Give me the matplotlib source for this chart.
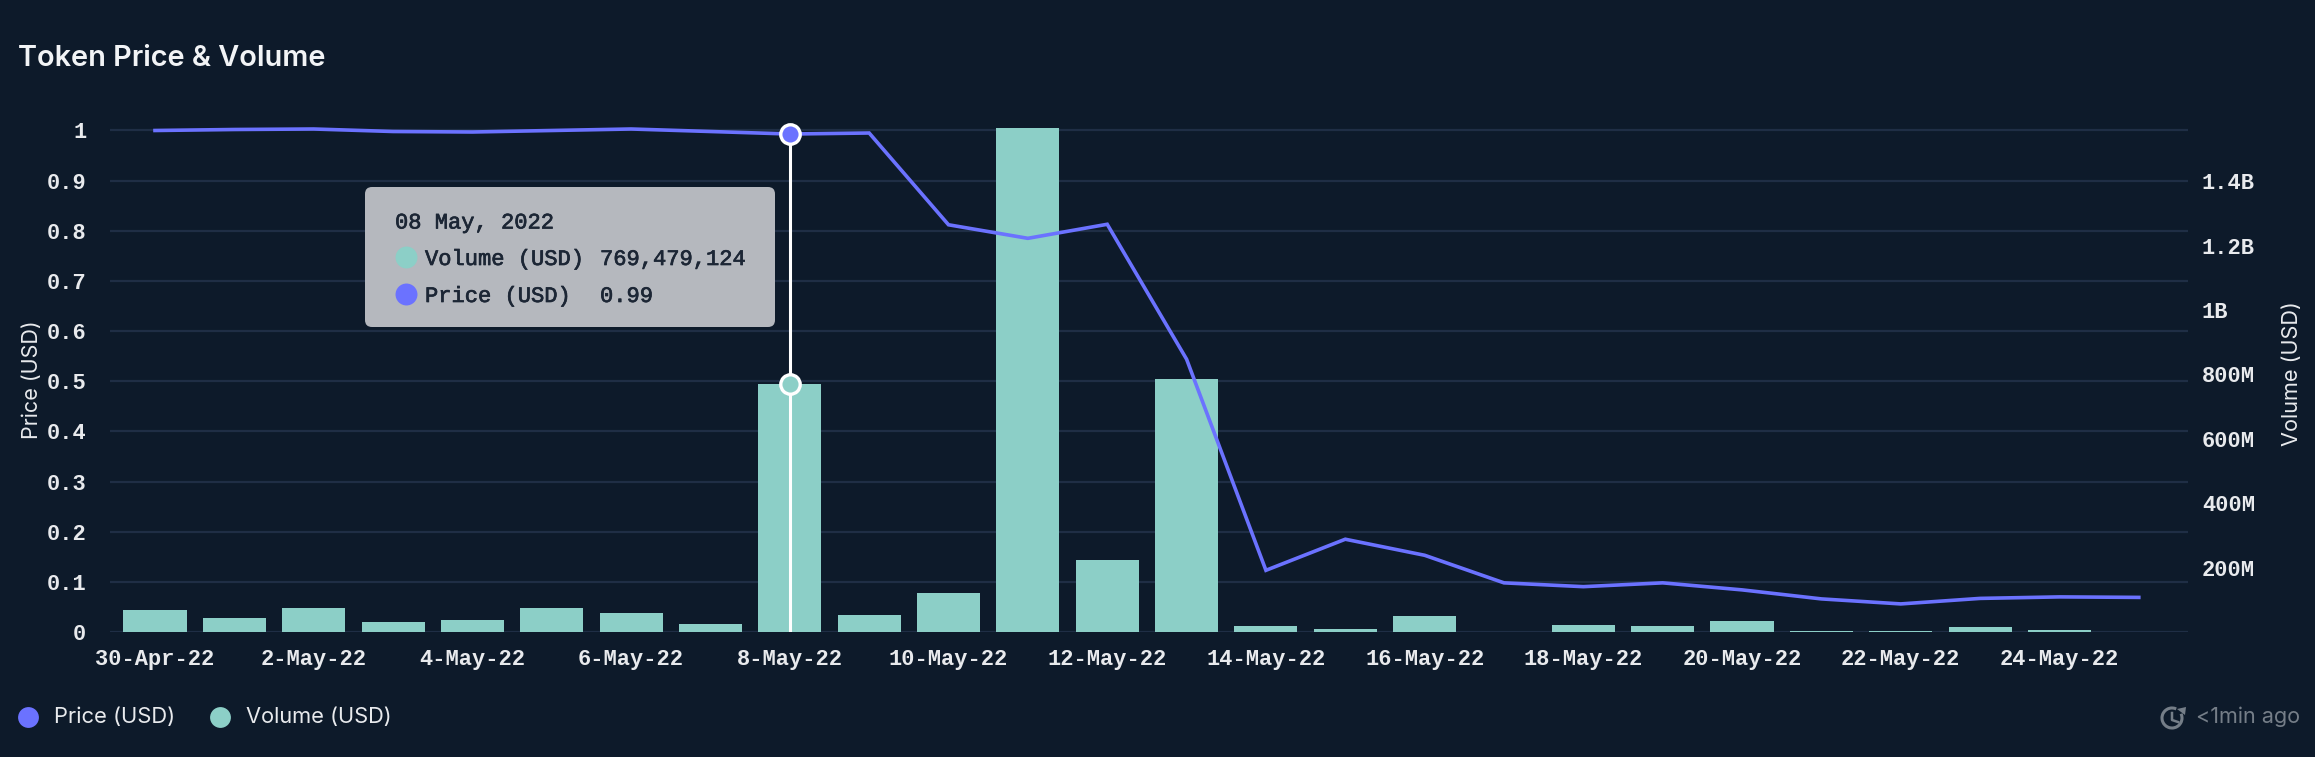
import matplotlib
matplotlib.use("Agg")
import matplotlib.pyplot as plt
import matplotlib.patheffects as pe
from matplotlib.patches import FancyBboxPatch, Arc, Polygon
from matplotlib.ticker import FuncFormatter

dates = ["30-Apr-22","1-May-22","2-May-22","3-May-22","4-May-22","5-May-22","6-May-22","7-May-22",
         "8-May-22","9-May-22","10-May-22","11-May-22","12-May-22","13-May-22","14-May-22","15-May-22",
         "16-May-22","17-May-22","18-May-22","19-May-22","20-May-22","21-May-22","22-May-22","23-May-22",
         "24-May-22","25-May-22"]
price = [1.0,1.002,1.003,0.998,0.997,1.0,1.003,0.998,0.993,0.995,0.812,0.785,0.813,0.544,0.123,0.185,
         0.153,0.098,0.0904,0.098,0.084,0.066,0.056,0.067,0.07,0.069]
volume = [68e6,43.5e6,75.6e6,30e6,36e6,75.6e6,58e6,26e6,769.479124e6,54e6,121e6,1565e6,225e6,787e6,20e6,9e6,
          49e6,1e6,22e6,18.6e6,35e6,4e6,4e6,14e6,5e6,1e6]
price_ticks = [0,0.1,0.2,0.3,0.4,0.5,0.6,0.7,0.8,0.9,1]
volume_ticks = [200e6,400e6,600e6,800e6,1000e6,1200e6,1400e6]
highlight = 8

W, H = 2315, 757
BG = "#0d1a2a"; GRID = "#1f2e45"; BAR = "#8ccfc7"; LINE = "#6b72ff"; TXT = "#e8eaed"; MUTED = "#757e88"
MONO = "Liberation Mono"; SANS = "Inter"

fig = plt.figure(figsize=(W/100, H/100), dpi=100, facecolor=BG)
L, R, T, B = 110, 2188, 120, 632
rect = [L/W, 1-B/H, (R-L)/W, (B-T)/H]
ppx = 501.5  # px per 1.0 of price
vpx = 64.4/200e6

ax = fig.add_axes(rect, facecolor=BG, zorder=1)
xs = list(range(len(dates)))
ax.set_xlim(-0.567, 25.62)
ax.set_ylim(0, (B-T)/ppx)
ax.set_yticks(price_ticks)
ax.set_yticklabels([f"{v:g}" for v in price_ticks], family=MONO, weight="bold", fontsize=15.8, color=TXT)
ax.yaxis.grid(True, color=GRID, lw=1.6)
ax.set_axisbelow(True)
ax.set_xticks(xs[::2])
ax.set_xticklabels(dates[::2], family=MONO, weight="bold", fontsize=15.8, color=TXT)
ax.tick_params(length=0, pad=17, axis="y")
ax.tick_params(length=0, pad=12, axis="x")
for s in ax.spines.values():
    s.set_visible(False)

ax2 = ax.twinx()
ax2.set_zorder(2); ax2.patch.set_visible(False)
ax2.set_ylim(0, (B-T)/vpx)
ax2.bar(xs, volume, width=0.795, color=BAR, clip_on=False)
ax2.set_yticks(volume_ticks)
def fmt(v, _):
    return f"{v/1e9:g}B" if v >= 1e9 else f"{v/1e6:g}M"
ax2.yaxis.set_major_formatter(FuncFormatter(fmt))
for t in ax2.get_yticklabels():
    t.set(family=MONO, weight="bold", fontsize=15.8, color=TXT)
ax2.tick_params(length=0, pad=10, axis="y")
for s in ax2.spines.values():
    s.set_visible(False)

ax3 = ax.twinx()
ax3.set_zorder(3); ax3.patch.set_visible(False)
ax3.set_ylim(ax.get_ylim())
ax3.set_yticks([])
for s in ax3.spines.values():
    s.set_visible(False)
ax3.plot(xs, price, color=LINE, lw=2.6, solid_joinstyle="miter", zorder=3)
# crosshair
hv = volume[highlight]*vpx/ppx
ax3.plot([xs[highlight]]*2, [0, price[highlight]], color="white", lw=2.2, zorder=4)
ax3.plot(xs[highlight], price[highlight], "o", ms=14, mfc=LINE, mec="white", mew=2.4, zorder=5)
ax3.plot(xs[highlight], hv, "o", ms=14, mfc=BAR, mec="white", mew=2.4, zorder=5)

def P(x, y):
    return x/W, 1-y/H

def ftext(x, y, s, **kw):
    kw.setdefault("va", "center")
    fig.text(*P(x, y), s, **kw)

ftext(18, 58, "Token Price & Volume", family=SANS, weight=600, fontsize=20.8, color="#f2f4f6")
ftext(32, 380, "Price (USD)", family=SANS, fontsize=15.5, color=TXT, rotation=90, ha="center")
ftext(2292, 374, "Volume (USD)", family=SANS, fontsize=15.6, color=TXT, rotation=90, ha="center")

# tooltip (figure level, above all axes)
ov = fig.add_axes([0, 0, 1, 1], zorder=6)
ov.set_xlim(0, W); ov.set_ylim(H, 0); ov.axis("off")
ov.add_patch(FancyBboxPatch((371, 193), 398, 128, boxstyle="round,pad=6,rounding_size=7", lw=0, fc="#b5b8be"))
TT = "#1c2635"
heavy = [pe.withStroke(linewidth=0.5, foreground=TT)]
for (tx, ty, s) in [(395, 223, "08 May, 2022"), (425, 259.5, "Volume (USD)"), (600, 259.5, "769,479,124"),
                    (425, 296.5, "Price (USD)"), (600, 296.5, "0.99")]:
    ov.text(tx, ty, s, family=MONO, fontsize=15.9, color=TT, va="center", path_effects=heavy)
ov.plot([405.7], [257], "o", ms=15.8, color=BAR, mew=0)
ov.plot([405.7], [294], "o", ms=15.8, color=LINE, mew=0)

# legend
ov.plot([27.5], [717], "o", ms=15, color=LINE, mew=0)
ov.text(54, 717, "Price (USD)", family=SANS, fontsize=15.8, color=TXT, va="center")
ov.plot([220], [717], "o", ms=15, color=BAR, mew=0)
ov.text(246, 717, "Volume (USD)", family=SANS, fontsize=15.7, color=TXT, va="center")

# refresh stamp
ov.add_patch(Arc((2172, 718), 20, 20, theta1=-25, theta2=295, color=MUTED, lw=2.2))
ov.plot([2172, 2172, 2178], [713, 720, 722], color=MUTED, lw=1.8)
ov.add_patch(Polygon([(2177, 709), (2186, 707), (2185, 715)], fc=MUTED, lw=0))
ov.text(2196, 717, "<1min ago", family=SANS, fontsize=15.5, color=MUTED, va="center")

fig.savefig("out.png", dpi=100, facecolor=BG)
